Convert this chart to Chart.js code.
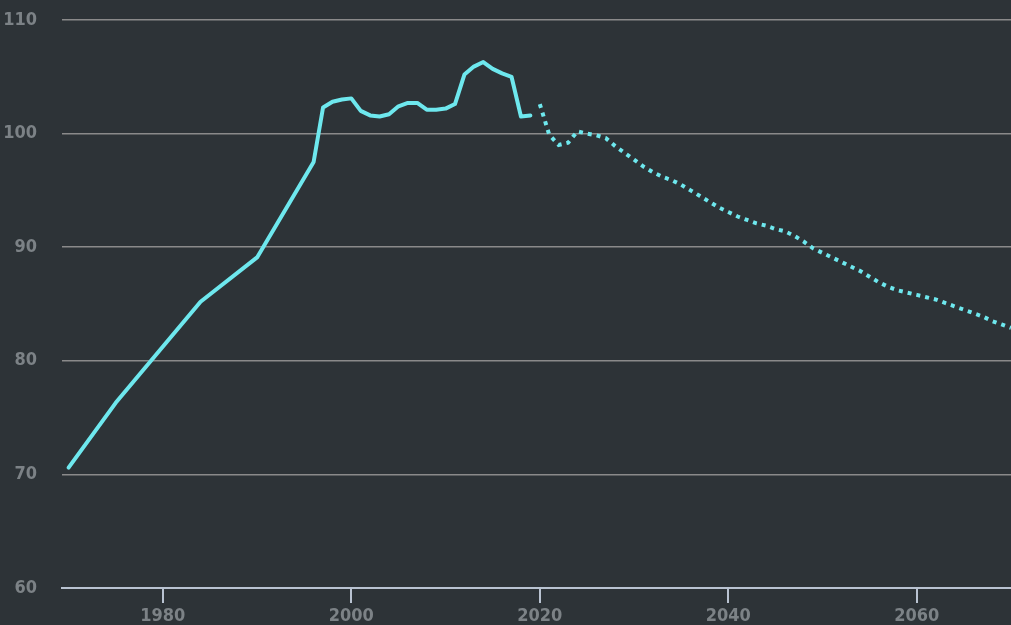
<!DOCTYPE html>
<html>
<head>
<meta charset="utf-8">
<script src="https://cdn.jsdelivr.net/npm/chart.js@4"></script>
<style>
  html, body { margin: 0; padding: 0; background: #2d3337; overflow: hidden; }
  canvas { display: block; }
</style>
</head>
<body>
<canvas id="c" width="1011" height="625"></canvas>
<script>
const solidYears  = [1970, 1975, 1984, 1990, 1996, 1997, 1998, 1999, 2000, 2001, 2002, 2003, 2004, 2005, 2006, 2007, 2008, 2009, 2010, 2011, 2012, 2013, 2014, 2015, 2016, 2017, 2018, 2019];
const solidValues = [70.6, 76.3, 85.2, 89.1, 97.5, 102.3, 102.8, 103.0, 103.1, 102.0, 101.6, 101.5, 101.7, 102.4, 102.7, 102.7, 102.1, 102.1, 102.2, 102.6, 105.2, 105.9, 106.3, 105.7, 105.3, 105.0, 101.5, 101.6];

const projYears  = [2020, 2021, 2022, 2023, 2024, 2025, 2026, 2027, 2028, 2029, 2030, 2031, 2032, 2033, 2034, 2035, 2036, 2037, 2038, 2039, 2040, 2041, 2042, 2043, 2044, 2045, 2046, 2047, 2048, 2049, 2050, 2051, 2052, 2053, 2054, 2055, 2056, 2057, 2058, 2059, 2060, 2061, 2062, 2063, 2064, 2065, 2066, 2067, 2068, 2069, 2070];
const projValues = [102.6, 99.9, 99.0, 99.2, 100.2, 100.0, 99.85, 99.6, 98.9, 98.3, 97.7, 97.1, 96.6, 96.2, 95.9, 95.5, 95.0, 94.5, 94.0, 93.5, 93.1, 92.7, 92.4, 92.1, 91.9, 91.6, 91.4, 91.0, 90.5, 89.9, 89.5, 89.1, 88.7, 88.3, 87.9, 87.4, 86.9, 86.5, 86.2, 86.0, 85.8, 85.6, 85.4, 85.1, 84.8, 84.5, 84.2, 83.9, 83.5, 83.2, 82.9];

const xTicks = [1980, 2000, 2020, 2040, 2060];
const yTicks = [60, 70, 80, 90, 100, 110];

const lineColor = '#6ee8ee';
const font = { family: "'DejaVu Sans Condensed', sans-serif", size: 18, weight: 'bold' };

new Chart(document.getElementById('c'), {
  type: 'line',
  data: {
    datasets: [
      {
        data: solidYears.map((y, i) => ({ x: y, y: solidValues[i] })),
        borderColor: lineColor,
        borderWidth: 4,
        borderJoinStyle: 'round',
        borderCapStyle: 'round',
        pointRadius: 0,
        tension: 0,
        fill: false
      },
      {
        data: projYears.map((y, i) => ({ x: y, y: projValues[i] })),
        borderColor: lineColor,
        borderWidth: 4,
        borderDash: [4, 5],
        borderCapStyle: 'butt',
        pointRadius: 0,
        tension: 0,
        fill: false
      }
    ]
  },
  options: {
    responsive: false,
    devicePixelRatio: 1,
    animation: false,
    layout: { padding: { top: 20, right: 0, left: 0, bottom: 0 } },
    plugins: { legend: { display: false }, tooltip: { enabled: false } },
    scales: {
      x: {
        type: 'linear',
        min: 1969.3,
        max: 2070,
        afterBuildTicks: s => { s.ticks = xTicks.map(v => ({ value: v })); },
        afterFit: s => { s.height = 37; s.paddingLeft = 0; s.paddingRight = 0; },
        grid: { drawOnChartArea: false, drawTicks: true, tickLength: 15, color: '#b9c3d1', lineWidth: 2 },
        border: { display: true, color: '#b9c3d1', width: 2 },
        ticks: { color: '#7c8286', font: font, padding: 3, maxRotation: 0, autoSkip: false, callback: v => String(v) }
      },
      y: {
        type: 'linear',
        min: 60,
        max: 110,
        afterBuildTicks: s => { s.ticks = yTicks.map(v => ({ value: v })); },
        afterFit: s => { s.width = 62; s.paddingTop = 0; s.paddingBottom = 0; },
        grid: { drawTicks: false, color: '#8a8a8a', lineWidth: 1.5 },
        border: { display: false },
        ticks: { color: '#7c8286', font: font, padding: 25, callback: v => String(v) }
      }
    }
  }
});
</script>
</body>
</html>
